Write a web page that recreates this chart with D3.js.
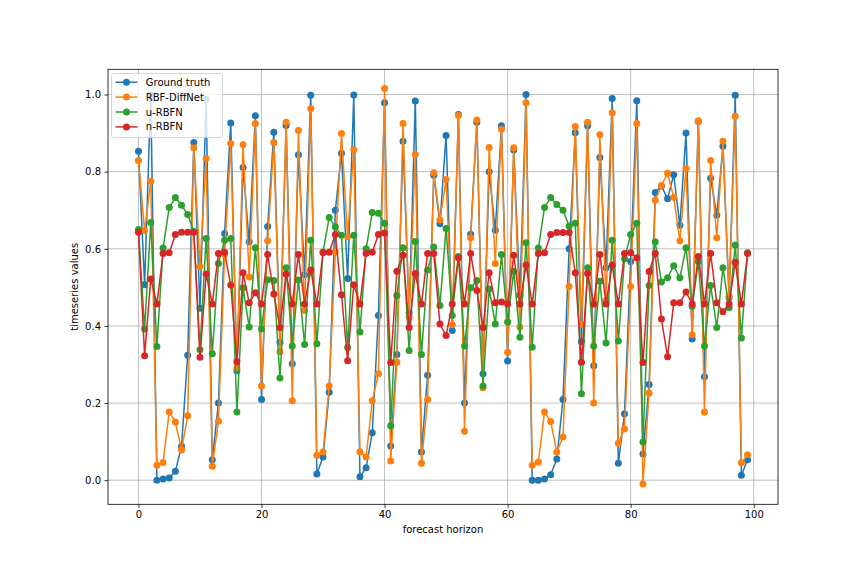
<!DOCTYPE html>
<html>
<head>
<meta charset="utf-8">
<script src="https://cdn.jsdelivr.net/npm/d3@7"></script>
<style>
html,body{margin:0;padding:0;background:#fff;}
svg{display:block;font-family:"DejaVu Sans",sans-serif;}
</style>
</head>
<body>
<svg id="chart" width="864" height="576"></svg>
<script>
const groundTruth = [0.853,0.507,1.0,0.0,0.003,0.006,0.023,0.088,0.324,0.876,
0.446,0.988,0.053,0.2,0.64,0.926,0.284,0.811,0.618,0.945,
0.209,0.658,0.902,0.358,0.92,0.302,0.844,0.533,0.998,0.016,
0.06,0.228,0.70,0.848,0.523,0.999,0.009,0.032,0.123,0.427,
0.979,0.089,0.326,0.879,0.434,0.983,0.073,0.272,0.791,0.665,
0.894,0.388,0.948,0.2,0.638,0.928,0.276,0.8,0.648,0.919,
0.309,0.856,0.48,1.0,0.0,0.0,0.003,0.014,0.055,0.209,
0.6,0.901,0.359,0.919,0.297,0.837,0.551,0.99,0.044,0.172,
0.567,0.984,0.068,0.248,0.746,0.763,0.73,0.792,0.661,0.9,
0.366,0.93,0.268,0.783,0.687,0.866,0.473,0.998,0.013,0.053];

const rbfDiffNet = [0.829,0.647,0.775,0.039,0.046,0.177,0.151,0.078,0.167,0.862,
0.555,0.834,0.036,0.153,0.585,0.873,0.291,0.870,0.527,0.925,
0.244,0.621,0.876,0.333,0.928,0.206,0.907,0.44,0.964,0.065,
0.073,0.244,0.592,0.899,0.632,0.857,0.074,0.06,0.206,0.276,
1.016,0.05,0.306,0.925,0.423,0.845,0.044,0.209,0.797,0.675,
0.78,0.403,0.946,0.127,0.629,0.934,0.24,0.863,0.562,0.91,
0.332,0.862,0.397,0.979,0.039,0.047,0.177,0.152,0.073,0.112,
0.502,0.917,0.405,0.928,0.2,0.896,0.466,0.953,0.096,0.133,
0.502,0.925,-0.010,0.226,0.726,0.764,0.796,0.734,0.621,0.808,
0.377,0.932,0.177,0.829,0.629,0.879,0.477,0.944,0.045,0.066];

const uRBFN = [0.650,0.392,0.668,0.347,0.602,0.707,0.733,0.713,0.689,0.645,
0.338,0.627,0.328,0.562,0.622,0.627,0.177,0.499,0.397,0.603,
0.392,0.520,0.518,0.265,0.551,0.348,0.519,0.352,0.622,0.354,
0.592,0.681,0.657,0.635,0.344,0.635,0.384,0.600,0.694,0.692,
0.666,0.141,0.479,0.603,0.336,0.619,0.326,0.545,0.605,0.453,
0.653,0.427,0.58,0.348,0.499,0.518,0.244,0.496,0.405,0.585,
0.41,0.542,0.371,0.616,0.345,0.602,0.707,0.733,0.715,0.700,
0.659,0.666,0.224,0.551,0.348,0.516,0.356,0.622,0.361,0.574,
0.637,0.666,0.099,0.505,0.618,0.514,0.525,0.556,0.525,0.603,
0.451,0.567,0.348,0.505,0.396,0.551,0.447,0.610,0.369,0.590];

const nRBFN = [0.643,0.323,0.522,0.457,0.588,0.590,0.637,0.643,0.643,0.643,
0.319,0.535,0.457,0.588,0.591,0.506,0.307,0.538,0.460,0.486,
0.457,0.585,0.483,0.396,0.535,0.457,0.585,0.457,0.545,0.457,
0.590,0.591,0.637,0.481,0.310,0.507,0.457,0.588,0.591,0.637,
0.641,0.305,0.542,0.583,0.396,0.536,0.457,0.588,0.588,0.405,
0.375,0.457,0.577,0.457,0.588,0.492,0.396,0.538,0.460,0.462,
0.457,0.583,0.457,0.558,0.457,0.588,0.590,0.637,0.642,0.642,
0.642,0.538,0.306,0.536,0.457,0.585,0.457,0.558,0.457,0.588,
0.590,0.577,0.305,0.541,0.588,0.418,0.320,0.460,0.460,0.488,
0.457,0.580,0.457,0.588,0.460,0.437,0.457,0.565,0.457,0.588];

const seriesNames = ["Ground truth","RBF-DiffNet","u-RBFN","n-RBFN"];
const seriesColors = ["#1f77b4","#ff7f0e","#2ca02c","#d62728"];
const xTicks = [0,20,40,60,80,100];
const yTicks = [0.0,0.2,0.4,0.6,0.8,1.0];

const allSeries = [groundTruth, rbfDiffNet, uRBFN, nRBFN];

const svg = d3.select("#chart");
const L = 108, R = 778, T = 69.3, B = 504.3;
const FS = "10px";

const x = d3.scaleLinear().domain([-4.95, 103.95]).range([L, R]);
const y = d3.scaleLinear().domain([-0.0625, 1.0655]).range([B, T]);

// grid
const g = svg.append("g");
g.selectAll(".vg").data(xTicks).enter().append("line")
  .attr("x1", d => x(d)).attr("x2", d => x(d)).attr("y1", T).attr("y2", B)
  .attr("stroke", "#b0b0b0").attr("stroke-width", 0.8);
g.selectAll(".hg").data(yTicks).enter().append("line")
  .attr("x1", L).attr("x2", R).attr("y1", d => y(d)).attr("y2", d => y(d))
  .attr("stroke", "#b0b0b0").attr("stroke-width", 0.8);

// series
const line = d3.line().x((d, i) => x(i)).y(d => y(d));
allSeries.forEach((s, k) => {
  const sg = svg.append("g");
  sg.append("path").datum(s).attr("d", line)
    .attr("fill", "none").attr("stroke", seriesColors[k]).attr("stroke-width", 1.5)
    .attr("stroke-linejoin", "round");
  sg.selectAll("circle").data(s).enter().append("circle")
    .attr("cx", (d, i) => x(i)).attr("cy", d => y(d)).attr("r", 3.5)
    .attr("fill", seriesColors[k]);
});

// frame
svg.append("rect").attr("x", L).attr("y", T).attr("width", R - L).attr("height", B - T)
  .attr("fill", "none").attr("stroke", "#000").attr("stroke-width", 0.8);

// axes
const xAxis = d3.axisBottom(x).tickValues(xTicks).tickSize(3.5).tickPadding(3.5).tickFormat(d3.format("d"));
const xg = svg.append("g").attr("transform", `translate(0,${B})`).call(xAxis);
const yAxis = d3.axisLeft(y).tickValues(yTicks).tickSize(3.5).tickPadding(3.5).tickFormat(d3.format(".1f"));
const yg = svg.append("g").attr("transform", `translate(${L},0)`).call(yAxis);
[xg, yg].forEach(a => {
  a.attr("font-size", null).attr("font-family", null);
  a.select(".domain").remove();
  a.selectAll("line").attr("stroke", "#000").attr("stroke-width", 0.8);
  a.selectAll("text").attr("fill", "#000").style("font-size", FS)
    .style("font-family", "DejaVu Sans, sans-serif");
});

svg.append("text").attr("x", (L + R) / 2).attr("y", 533).attr("text-anchor", "middle")
  .style("font-size", FS).text("forecast horizon");
svg.append("text").attr("transform", `translate(78,${(T + B) / 2}) rotate(-90)`)
  .attr("text-anchor", "middle").style("font-size", FS).text("timeseries values");

// legend
const lg = svg.append("g").attr("transform", `translate(111.5,73.5)`);
lg.append("rect").attr("x", 0).attr("y", 0).attr("width", 111).attr("height", 64)
  .attr("rx", 2).attr("fill", "#fff").attr("fill-opacity", 0.8)
  .attr("stroke", "#cccccc").attr("stroke-width", 0.8);
seriesNames.forEach((n, k) => {
  const yy = 8.7 + k * 14.9;
  lg.append("line").attr("x1", 4).attr("x2", 26).attr("y1", yy).attr("y2", yy)
    .attr("stroke", seriesColors[k]).attr("stroke-width", 1.5);
  lg.append("circle").attr("cx", 15).attr("cy", yy).attr("r", 3.5).attr("fill", seriesColors[k]);
  lg.append("text").attr("x", 34.3).attr("y", yy).attr("dy", "0.35em")
    .style("font-size", FS).text(n);
});
</script>
</body>
</html>
